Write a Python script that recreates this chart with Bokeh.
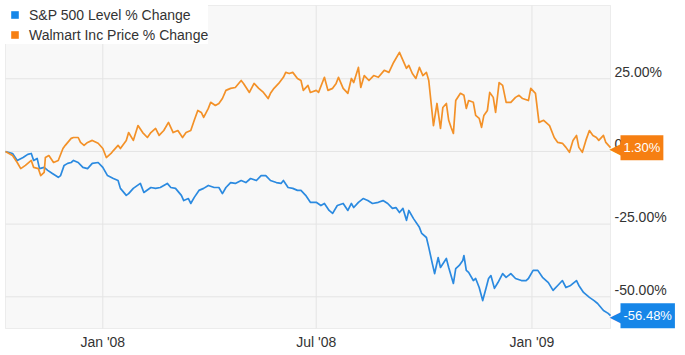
import pandas as pd
from bokeh.plotting import figure
from bokeh.models import (Range1d, FixedTicker, BoxAnnotation,
                          DatetimeTickFormatter, Legend, LegendItem)
from bokeh.core.properties import value
from bokeh.embed import file_html
from bokeh.resources import INLINE

# ---------------- data ----------------
spx_name = "S&P 500 Level % Change"
wmt_name = "Walmart Inc Price % Change"

spx_dates = [
    "2007-10-10", "2007-10-16", "2007-10-20", "2007-10-25", "2007-10-29",
    "2007-11-01", "2007-11-03", "2007-11-06", "2007-11-08", "2007-11-12", "2007-11-15", "2007-11-19", "2007-11-24", "2007-11-26", "2007-11-29",
    "2007-12-02", "2007-12-05", "2007-12-07", "2007-12-11", "2007-12-15", "2007-12-19", "2007-12-23", "2007-12-28",
    "2008-01-01", "2008-01-05", "2008-01-10", "2008-01-14", "2008-01-16", "2008-01-21", "2008-01-23", "2008-01-27",
    "2008-02-02", "2008-02-05", "2008-02-11", "2008-02-15", "2008-02-19", "2008-02-25", "2008-02-28",
    "2008-03-03", "2008-03-08", "2008-03-10", "2008-03-14", "2008-03-16", "2008-03-19", "2008-03-23", "2008-03-27", "2008-03-31",
    "2008-04-05", "2008-04-09", "2008-04-12", "2008-04-15", "2008-04-19", "2008-04-23", "2008-04-28",
    "2008-05-02", "2008-05-06", "2008-05-11", "2008-05-15", "2008-05-19", "2008-05-23", "2008-05-28",
    "2008-06-01", "2008-06-03", "2008-06-07", "2008-06-11", "2008-06-15", "2008-06-18", "2008-06-22", "2008-06-26",
    "2008-07-01", "2008-07-05", "2008-07-08", "2008-07-12", "2008-07-15", "2008-07-19", "2008-07-24", "2008-07-28", "2008-07-31",
    "2008-08-02", "2008-08-06", "2008-08-10", "2008-08-14", "2008-08-18", "2008-08-23", "2008-08-27", "2008-08-31",
    "2008-09-04", "2008-09-07", "2008-09-10", "2008-09-13", "2008-09-16", "2008-09-18", "2008-09-22", "2008-09-27", "2008-09-29",
    "2008-10-03", "2008-10-05", "2008-10-08", "2008-10-10", "2008-10-13", "2008-10-15", "2008-10-20", "2008-10-22", "2008-10-26", "2008-10-28", "2008-10-31",
    "2008-11-03", "2008-11-04", "2008-11-06", "2008-11-08", "2008-11-12", "2008-11-14", "2008-11-17", "2008-11-20", "2008-11-23", "2008-11-25", "2008-11-27", "2008-11-30",
    "2008-12-03", "2008-12-07", "2008-12-10", "2008-12-14", "2008-12-18", "2008-12-23", "2008-12-27", "2008-12-29",
    "2009-01-02", "2009-01-06", "2009-01-10", "2009-01-15", "2009-01-19", "2009-01-23", "2009-01-27", "2009-01-30",
    "2009-02-03", "2009-02-08", "2009-02-10", "2009-02-14", "2009-02-19", "2009-02-23", "2009-02-26",
    "2009-03-03", "2009-03-07", "2009-03-09",
]
spx_pct = [
    0.0, -0.7, -3.1, -2.1, -1.0,
    -0.7, -3.1, -2.4, -5.9, -5.5, -6.5, -7.6, -8.9, -8.3, -4.8,
    -4.1, -3.8, -3.1, -3.8, -5.5, -5.9, -4.1, -3.8,
    -5.5, -8.3, -9.3, -10.0, -12.7, -15.1, -14.5, -12.7,
    -11.0, -14.1, -12.4, -12.7, -12.4, -11.0, -12.4,
    -12.7, -15.1, -16.9, -16.2, -17.9, -15.8, -13.4, -12.7, -11.7,
    -12.4, -12.4, -14.5, -12.4, -10.7, -11.0, -10.0,
    -10.7, -9.3, -10.0, -8.3, -8.3, -10.0, -10.7,
    -11.0, -10.0, -12.4, -12.7, -13.4, -13.4, -15.1, -17.5,
    -17.5, -18.6, -17.9, -20.3, -21.3, -18.6, -17.9, -20.3, -17.9,
    -19.3, -17.5, -16.2, -16.9, -17.9, -17.5, -16.9, -17.9,
    -19.6, -19.3, -21.0, -19.6, -23.7, -20.3, -23.1, -26.1, -28.2,
    -29.6, -33.0, -38.5, -42.0, -36.5, -39.9, -36.8, -39.9, -45.4, -40.3, -39.2,
    -37.5, -35.8, -40.9, -41.6, -44.4, -43.7, -46.8, -51.3, -46.8, -43.7, -42.7, -47.1,
    -45.1, -42.0, -43.3, -42.0, -43.7, -44.4, -44.4, -43.7,
    -40.9, -40.9, -43.3, -45.1, -47.8, -46.1, -44.4, -46.8,
    -46.1, -44.4, -46.1, -48.5, -50.2, -51.3, -52.3,
    -54.7, -55.7, -56.48,
]

wmt_dates = [
    "2007-10-10", "2007-10-16", "2007-10-20", "2007-10-23", "2007-10-27",
    "2007-11-01", "2007-11-03", "2007-11-07", "2007-11-09", "2007-11-12", "2007-11-13", "2007-11-16", "2007-11-20", "2007-11-24", "2007-11-28", "2007-11-30",
    "2007-12-05", "2007-12-07", "2007-12-11", "2007-12-13", "2007-12-16", "2007-12-19", "2007-12-23", "2007-12-28",
    "2008-01-01", "2008-01-04", "2008-01-08", "2008-01-10", "2008-01-14", "2008-01-16", "2008-01-21", "2008-01-23", "2008-01-27", "2008-01-31",
    "2008-02-04", "2008-02-08", "2008-02-11", "2008-02-15", "2008-02-18", "2008-02-22", "2008-02-26",
    "2008-03-01", "2008-03-05", "2008-03-09", "2008-03-12", "2008-03-16", "2008-03-19", "2008-03-22", "2008-03-25", "2008-03-27", "2008-03-31",
    "2008-04-02", "2008-04-06", "2008-04-09", "2008-04-12", "2008-04-15", "2008-04-19", "2008-04-23", "2008-04-28", "2008-04-30",
    "2008-05-05", "2008-05-09", "2008-05-13", "2008-05-17", "2008-05-21", "2008-05-23", "2008-05-26", "2008-05-30",
    "2008-06-03", "2008-06-05", "2008-06-08", "2008-06-11", "2008-06-15", "2008-06-18", "2008-06-20", "2008-06-24", "2008-06-26",
    "2008-07-01", "2008-07-03", "2008-07-08", "2008-07-11", "2008-07-15", "2008-07-18", "2008-07-20", "2008-07-24", "2008-07-28", "2008-07-31",
    "2008-08-02", "2008-08-06", "2008-08-08", "2008-08-11", "2008-08-15", "2008-08-19", "2008-08-23", "2008-08-28",
    "2008-09-01", "2008-09-05", "2008-09-10", "2008-09-13", "2008-09-16", "2008-09-18", "2008-09-21", "2008-09-24", "2008-09-27", "2008-09-30",
    "2008-10-03", "2008-10-05", "2008-10-09", "2008-10-12", "2008-10-15", "2008-10-17", "2008-10-20", "2008-10-22", "2008-10-24", "2008-10-26", "2008-10-28",
    "2008-11-01", "2008-11-04", "2008-11-06", "2008-11-08", "2008-11-12", "2008-11-14", "2008-11-17", "2008-11-19", "2008-11-21", "2008-11-24", "2008-11-26", "2008-11-29",
    "2008-12-01", "2008-12-04", "2008-12-07", "2008-12-10", "2008-12-14", "2008-12-18", "2008-12-21", "2008-12-24", "2008-12-29", "2008-12-31",
    "2009-01-04", "2009-01-07", "2009-01-11", "2009-01-16", "2009-01-20", "2009-01-23", "2009-01-27", "2009-01-30",
    "2009-02-02", "2009-02-05", "2009-02-08", "2009-02-10", "2009-02-13", "2009-02-16", "2009-02-19", "2009-02-22", "2009-02-25", "2009-02-27",
    "2009-03-03", "2009-03-05", "2009-03-09",
]
wmt_pct = [
    0.0, -1.4, -3.8, -5.9, -4.8,
    -3.1, -5.5, -5.9, -8.3, -7.2, -2.1, -1.4, -3.8, -3.1, 1.0, 2.1,
    4.5, 4.8, 4.8, 3.1, 2.1, 3.1, 3.8, 2.8,
    1.0, -2.1, -0.7, 0.3, 2.1, 1.0, 3.8, 6.5, 3.8, 8.9,
    6.5, 4.8, 6.5, 7.9, 5.5, 7.2, 10.0,
    6.5, 7.2, 4.8, 6.5, 7.2, 10.7, 14.1, 13.4, 11.7, 14.8,
    16.9, 15.8, 16.5, 18.2, 21.0, 21.7, 22.0, 24.4, 23.4,
    20.3, 23.4, 21.7, 20.3, 18.2, 20.0, 21.7, 23.4,
    25.5, 27.2, 26.8, 27.2, 25.1, 24.4, 21.0, 22.7, 20.3,
    21.0, 20.3, 25.5, 21.0, 21.7, 23.4, 25.5, 21.7, 20.0, 25.1,
    23.7, 28.9, 22.0, 26.1, 24.4, 26.1, 25.5, 27.9,
    27.2, 30.6, 34.1, 31.3, 28.6, 29.6, 26.8, 25.1, 28.9, 26.1,
    27.2, 24.4, 8.9, 16.5, 7.9, 15.1, 16.5, 10.7, 8.3, 6.2, 17.5,
    20.0, 19.3, 14.8, 17.5, 16.9, 12.4, 11.4, 8.3, 12.4, 14.1, 20.3, 18.6,
    13.4, 23.7, 22.7, 16.9, 16.9, 18.6, 19.3, 18.2, 17.5, 21.7,
    20.0, 10.0, 10.7, 8.9, 4.8, 3.1, 2.8, 1.4,
    -0.3, 3.8, 5.5, 1.4, -0.3, 3.8, 7.2, 5.5, 4.8, 3.8,
    5.5, 3.1, 1.30,
]

y_ticks = [-50, -25, 0, 25]
y_tick_labels = ["-50.00%", "-25.00%", "0.00%", "25.00%"]
x_tick_dates = ["2008-01-01", "2008-07-01", "2009-01-01"]
y_min, y_max = -60.9, 50.2

# ---------------- styling ----------------
BLUE_LINE = "#2b8ae0"
ORANGE_LINE = "#f39128"
BLUE_TAG = "#1686e8"
ORANGE_TAG = "#f67f12"
GRID = "#e4e4e4"
FONT = "Liberation Sans"
TEXT = "#333333"

sd = pd.to_datetime(spx_dates)
wd = pd.to_datetime(wmt_dates)
to_ms = lambda t: pd.Timestamp(t).timestamp() * 1000.0
x0 = to_ms(min(sd[0], wd[0]))
x1 = to_ms(max(sd[-1], wd[-1]))
xt = [to_ms(d) for d in x_tick_dates]

# pixel layout: chart box 5..610 (x), 5..328 (y); tag/label strip to the right
W, H = 685, 355
BOX_W, BOX_H = 605, 323
RIGHT_STRIP = 75
mspp = (x1 - x0) / BOX_W
upp = (y_max - y_min) / BOX_H

p = figure(width=W, height=H, x_axis_type="datetime", y_axis_location=None,
           x_range=Range1d(x0 - mspp, x1 + RIGHT_STRIP * mspp),
           y_range=Range1d(y_min - upp, y_max + upp),
           output_backend="svg", toolbar_location=None,
           min_border_left=4, min_border_right=0,
           min_border_top=4, min_border_bottom=26)
p.background_fill_color = "white"
p.border_fill_color = "white"
p.outline_line_color = None
for g in p.grid:
    g.visible = False

# chart box
p.add_layout(BoxAnnotation(left=x0, right=x1, bottom=y_min, top=y_max,
                           fill_color="#f8f8f8", fill_alpha=1,
                           line_color="#c9c9c9", line_width=1, level="underlay"))

# grid lines (inside the box only)
p.segment(x0=[x0] * len(y_ticks), x1=[x1] * len(y_ticks), y0=y_ticks, y1=y_ticks,
          line_color=GRID, line_width=1)
p.segment(x0=xt, x1=xt, y0=[y_min] * len(xt), y1=[y_max] * len(xt),
          line_color=GRID, line_width=1)

# x axis
xa = p.xaxis[0]
xa.ticker = FixedTicker(ticks=xt)
xa.formatter = DatetimeTickFormatter(days="%b '%y", months="%b '%y", years="%b '%y")
xa.axis_line_color = None
xa.major_tick_line_color = None
xa.minor_tick_line_color = None
xa.major_tick_in = 0
xa.major_tick_out = 0
xa.major_label_standoff = 4
xa.major_label_text_font = FONT
xa.major_label_text_font_size = "14px"
xa.major_label_text_color = TEXT

# y tick labels on the right, slightly above their grid lines
p.text(x=[x1] * len(y_ticks), y=y_ticks, text=y_tick_labels,
       x_offset=4, y_offset=-7, text_align="left", text_baseline="middle",
       text_font=value(FONT), text_font_size="14px", text_color=TEXT)

# lines
p.line(sd, spx_pct, color=BLUE_LINE, line_width=1.7, line_join="round")
p.line(wd, wmt_pct, color=ORANGE_LINE, line_width=1.7, line_join="round")

# legend with square keys (zero-size markers, only the legend shows them)
k1 = p.scatter(x=sd[:1], y=spx_pct[:1], marker="square", size=0,
               fill_color=BLUE_TAG, line_color=None)
k2 = p.scatter(x=wd[:1], y=wmt_pct[:1], marker="square", size=0,
               fill_color=ORANGE_TAG, line_color=None)
leg = Legend(items=[LegendItem(label=spx_name, renderers=[k1]),
                    LegendItem(label=wmt_name, renderers=[k2])],
             location="top_left", margin=1, padding=8, spacing=1,
             glyph_width=19, glyph_height=19, label_height=19, label_standoff=5,
             background_fill_color="white", background_fill_alpha=1,
             border_line_color=None,
             label_text_font=FONT, label_text_font_size="14px",
             label_text_color=TEXT)
p.add_layout(leg, "center")

# last-value tags
for xs, ys, col in ((wd, wmt_pct, ORANGE_TAG), (sd, spx_pct, BLUE_TAG)):
    xe, ye = to_ms(xs[-1]), ys[-1]
    p.text(x=[xe], y=[ye], text=["\u25c0"], x_offset=-1,
           text_align="left", text_baseline="middle",
           text_font=value("DejaVu Sans"), text_font_size="20px", text_color=col)
    p.text(x=[xe], y=[ye], text=[f"{ye:.2f}%"], x_offset=10,
           text_align="left", text_baseline="middle",
           text_font=value(FONT), text_font_size="13px", text_color="white",
           background_fill_color=col, padding=(3, 5))

open("out.html", "w").write(file_html(p, INLINE))
